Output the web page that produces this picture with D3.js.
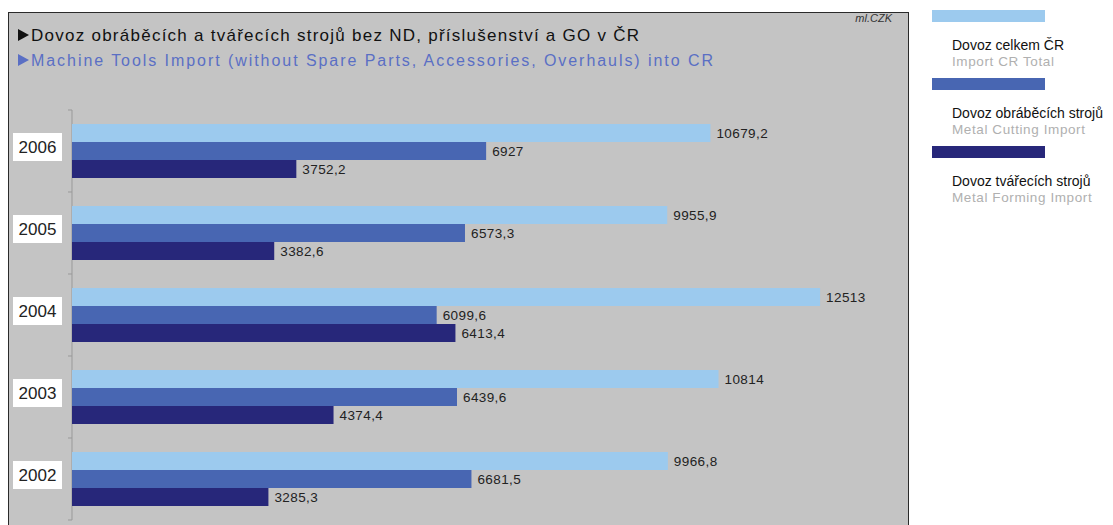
<!DOCTYPE html>
<html><head><meta charset="utf-8">
<script src="https://cdn.jsdelivr.net/npm/d3@7"></script>
<style>
html,body{margin:0;padding:0;background:#fff;}
svg{display:block;font-family:"Liberation Sans",Arial,sans-serif;}
</style></head>
<body><svg id="c" width="1113" height="525"></svg>
<script>
const years = ["2006","2005","2004","2003","2002"];
const seriesKeys = ["total","cutting","forming"];
const totalImport = [10679.2, 9955.9, 12513, 10814, 9966.8];
const cuttingImport = [6927, 6573.3, 6099.6, 6439.6, 6681.5];
const formingImport = [3752.2, 3382.6, 6413.4, 4374.4, 3285.3];
const seriesColors = ["#9ccaee","#4866b2","#27277a"];
const legendCz = ["Dovoz celkem ČR","Dovoz obráběcích strojů","Dovoz tvářecích strojů"];
const legendEn = ["Import CR Total","Metal Cutting Import","Metal Forming Import"];
const titleCz = "Dovoz obráběcích a tvářecích strojů bez ND, příslušenství a GO v ČR";
const titleEn = "Machine Tools Import (without Spare Parts, Accessories, Overhauls) into CR";
const unitLabel = "ml.CZK";

const seriesVals = [totalImport, cuttingImport, formingImport];
const svg = d3.select("#c");

// plot frame
svg.append("rect").attr("x",8.5).attr("y",12.5).attr("width",900).attr("height",530)
  .attr("fill","#c4c4c4").attr("stroke","#2a2a2a").attr("stroke-width",1);

const x = d3.scaleLinear().domain([0,14000]).range([72,909]);
const y = d3.scaleBand().domain(years).range([110,520]).padding(0);
const inner = d3.scaleBand().domain(seriesKeys).range([14, y.bandwidth()-14]).padding(0);

// axis
const ax = svg.append("g").attr("transform","translate(72,0)");
ax.append("line").attr("x1",0).attr("x2",0).attr("y1",110).attr("y2",520).attr("stroke","#999");
const tickYs = years.map(d=>y(d)).concat([y.range()[1]]);
ax.selectAll("line.t").data(tickYs).join("line").attr("class","t")
  .attr("x1",-4).attr("x2",0).attr("y1",d=>d).attr("y2",d=>d).attr("stroke","#999");

const fmt = v => String(v).replace(".",",");

years.forEach((yr,i)=>{
  const g = svg.append("g").attr("transform",`translate(0,${y(yr)})`);
  seriesKeys.forEach((k,j)=>{
    const v = seriesVals[j][i];
    g.append("rect").attr("x",x(0)).attr("y",inner(k)).attr("width",x(v)-x(0))
      .attr("height",inner.bandwidth()).attr("fill",seriesColors[j]);
    g.append("text").attr("x",x(v)+6).attr("y",inner(k)+inner.bandwidth()/2+5)
      .attr("font-size",13.5).attr("letter-spacing",0.4).attr("fill","#222").text(fmt(v));
  });
  const cy = y.bandwidth()/2 - 4;
  g.append("rect").attr("x",13).attr("y",cy-14).attr("width",49).attr("height",28).attr("fill","#fff");
  g.append("text").attr("x",37.5).attr("y",cy+6).attr("text-anchor","middle")
    .attr("font-size",17).attr("fill","#222").text(yr);
});

// titles with triangle markers
const titleRows = [
  {t:titleCz, y:41, size:17, color:"#111", len:608},
  {t:titleEn, y:66, size:16, color:"#5a6fc4", len:682}
];
titleRows.forEach(r=>{
  svg.append("path").attr("d",`M18,${r.y-12}L29,${r.y-6}L18,${r.y}Z`).attr("fill",r.color);
  svg.append("text").attr("x",31).attr("y",r.y).attr("font-size",r.size).attr("fill",r.color)
    .attr("textLength",r.len).attr("lengthAdjust","spacing").text(r.t);
});
svg.append("text").attr("x",892).attr("y",22).attr("text-anchor","end").attr("font-size",11)
  .attr("font-style","italic").attr("fill","#333").text(unitLabel);

// legend
const lg = svg.append("g");
seriesKeys.forEach((k,j)=>{
  const top = 10 + j*68;
  lg.append("rect").attr("x",932).attr("y",top).attr("width",113).attr("height",12).attr("fill",seriesColors[j]);
  lg.append("text").attr("x",952).attr("y",top+40).attr("font-size",14).attr("fill","#111").text(legendCz[j]);
  lg.append("text").attr("x",952).attr("y",top+56).attr("font-size",13.5).attr("letter-spacing",0.6)
    .attr("fill","#b0b0b0").text(legendEn[j]);
});
</script></body></html>
